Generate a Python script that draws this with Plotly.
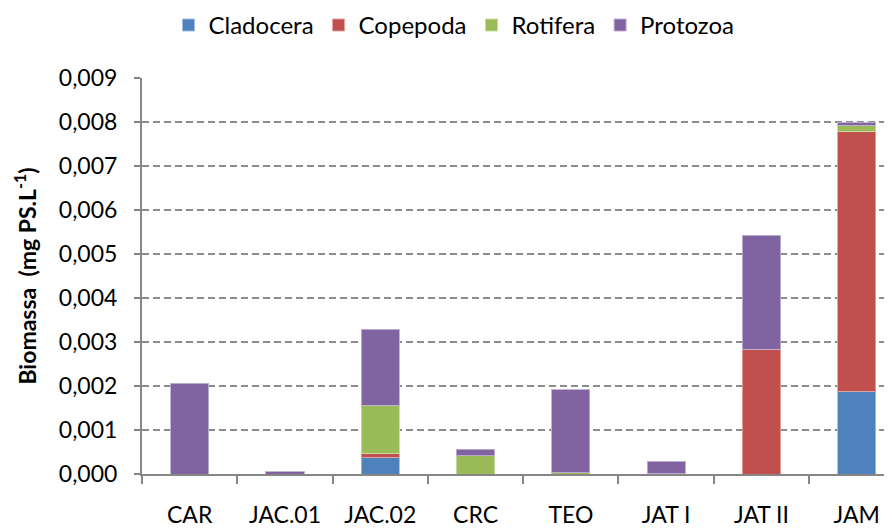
import plotly.graph_objects as go

categories = ["CAR", "JAC.01", "JAC.02", "CRC", "TEO", "JAT I", "JAT II", "JAM"]
cladocera = [None, None, 0.00038, None, None, 0.00001, None, 0.00188]
copepoda = [None, None, 0.00009, None, None, None, 0.00283, 0.00591]
rotifera = [None, None, 0.00109, 0.00042, 0.00003, None, None, 0.00014]
protozoa = [0.00206, 0.00005, 0.00173, 0.00014, 0.00189, 0.00028, 0.00260, 0.00005]
y_ticks = [0, 0.001, 0.002, 0.003, 0.004, 0.005, 0.006, 0.007, 0.008, 0.009]

series = [
    ("Cladocera", cladocera, "#4F81BD", "rgba(160,190,225,0.9)"),
    ("Copepoda", copepoda, "#C0504D", "rgba(225,160,158,0.9)"),
    ("Rotifera", rotifera, "#9BBB59", "rgba(200,220,165,0.9)"),
    ("Protozoa", protozoa, "#8064A2", "rgba(190,175,210,0.9)"),
]

FONT = "Lato"
fig = go.Figure()
for name, vals, col, edge in series:
    fig.add_trace(go.Bar(
        x=categories, y=vals, name=name,
        marker=dict(color=col, line=dict(color=edge, width=1)),
    ))

fig.update_layout(
    barmode="stack",
    bargap=0.6,
    width=892, height=528,
    margin=dict(l=134, r=8, t=70, b=62, autoexpand=False),
    paper_bgcolor="white", plot_bgcolor="white",
    separators=",.",
    font=dict(family=FONT, size=23, color="#000000"),
    legend=dict(
        orientation="h", xref="container", yref="container",
        x=0.5, y=0.967, xanchor="center", yanchor="middle",
        font=dict(family=FONT, size=24, color="#000000"),
        itemwidth=30, traceorder="normal",
    ),
    showlegend=True,
)

fig.update_xaxes(
    type="category",
    range=[-0.5, 7.37],
    showgrid=False,
    showline=True, linecolor="#868686", linewidth=2,
    ticks="outside", tickson="boundaries", ticklen=8, tickwidth=2, tickcolor="#868686",
    ticklabelstandoff=19,
    tickfont=dict(family=FONT, size=23, color="#000000"),
    automargin=False,
)
fig.update_yaxes(
    range=[0, 0.009],
    tickvals=y_ticks, tickformat=".3f",
    showgrid=True, gridcolor="#8c8c8c", gridwidth=1.5, griddash="7px,4px",
    showline=True, linecolor="#868686", linewidth=2,
    ticks="outside", ticklen=6, tickwidth=2, tickcolor="#868686",
    ticklabelstandoff=12,
    tickfont=dict(family=FONT, size=23, color="#000000"),
    zeroline=False,
    title=dict(text="<b>Biomassa  (mg PS.L<sup>-1</sup>)</b>", font=dict(family=FONT, size=23, color="#000000"), standoff=16),
    automargin=False,
)

fig.write_html("out.html")
